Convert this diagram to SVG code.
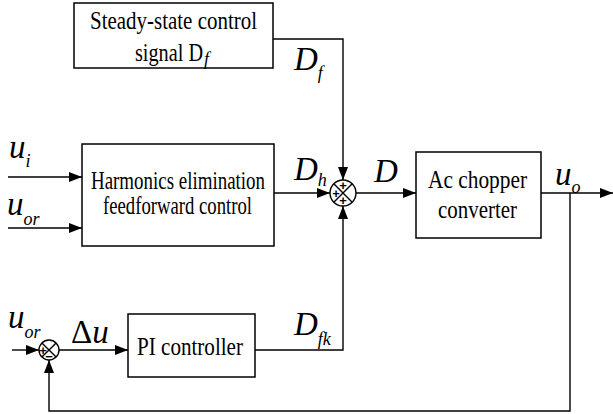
<svg xmlns="http://www.w3.org/2000/svg" width="613" height="414" viewBox="0 0 613 414">
<style>
.box{fill:#fff;stroke:#000;stroke-width:1.5}
.ln{fill:none;stroke:#000;stroke-width:1.4}
.t{font-family:'Liberation Serif','DejaVu Serif',serif;font-size:25px;fill:#000}
.m{font-family:'Liberation Serif','DejaVu Serif',serif;font-style:italic;font-size:33px;fill:#000}
.s{font-family:'Liberation Serif','DejaVu Serif',serif;font-style:italic;font-size:18px;fill:#000}
.pm{font-family:'Liberation Sans','DejaVu Sans',sans-serif;font-size:13px;font-weight:bold;fill:#000;text-anchor:middle}
</style>
<defs>
<marker id="ar" markerUnits="userSpaceOnUse" markerWidth="14" markerHeight="12" refX="13" refY="6" orient="auto">
<path d="M0,1 L13,6 L0,11 Z" fill="#000"/>
</marker>
</defs>
<rect width="613" height="414" fill="#fff"/>
<g id="connectors">
<path class="ln" d="M8,177 H82" marker-end="url(#ar)"/>
<path class="ln" d="M8,228 H82" marker-end="url(#ar)"/>
<path class="ln" d="M273,39 H343 V180" marker-end="url(#ar)"/>
<path class="ln" d="M274,193 H330" marker-end="url(#ar)"/>
<path class="ln" d="M356,193 H416" marker-end="url(#ar)"/>
<path class="ln" d="M541,193 H613" marker-end="url(#ar)"/>
<path class="ln" d="M570,193 V411 H49 V360" marker-end="url(#ar)"/>
<path class="ln" d="M255,350 H343 V206" marker-end="url(#ar)"/>
<path class="ln" d="M12,350 H39" marker-end="url(#ar)"/>
<path class="ln" d="M59,350 H128" marker-end="url(#ar)"/>
</g>
<g id="steady">
<rect class="box" x="74" y="3" width="199" height="65"/>
<text class="t" x="90" y="29" textLength="167" lengthAdjust="spacingAndGlyphs">Steady-state control</text>
<text class="t" x="135" y="61" textLength="68" lengthAdjust="spacingAndGlyphs">signal D</text>
<text class="s" x="204" y="65" font-size="16">f</text>
</g>
<g id="harmonics">
<rect class="box" x="82" y="144" width="192" height="102"/>
<text class="t" x="91" y="189" textLength="174" lengthAdjust="spacingAndGlyphs">Harmonics elimination</text>
<text class="t" x="103" y="214" textLength="149" lengthAdjust="spacingAndGlyphs">feedforward control</text>
</g>
<g id="sum1">
<circle class="ln" cx="343" cy="193" r="13" fill="#fff"/>
<path class="ln" d="M333.8,183.8 L352.2,202.2 M352.2,183.8 L333.8,202.2" stroke-width="1.2"/>
<text class="pm" x="343" y="190">+</text>
<text class="pm" x="336" y="197.5">+</text>
<text class="pm" x="343" y="205">+</text>
</g>
<g id="chopper">
<rect class="box" x="416" y="152" width="125" height="86"/>
<text class="t" x="428" y="188" textLength="99" lengthAdjust="spacingAndGlyphs">Ac chopper</text>
<text class="t" x="438" y="218" textLength="79" lengthAdjust="spacingAndGlyphs">converter</text>
</g>
<g id="pi">
<rect class="box" x="128" y="314" width="127" height="63"/>
<text class="t" x="137" y="355" textLength="106" lengthAdjust="spacingAndGlyphs">PI controller</text>
</g>
<g id="sum2">
<circle class="ln" cx="49" cy="350" r="10" fill="#fff"/>
<path class="ln" d="M41.9,342.9 L56.1,357.1 M56.1,342.9 L41.9,357.1" stroke-width="1.2"/>
<text class="pm" x="43" y="354.5">+</text>
<text class="pm" x="49" y="361">−</text>
</g>
<g id="labels">
<text class="m" x="9" y="158">u<tspan class="s" dy="9">i</tspan></text>
<text class="m" x="7" y="215">u<tspan class="s" dy="10">or</tspan></text>
<text class="m" x="294" y="70">D<tspan class="s" dy="9">f</tspan></text>
<text class="m" x="294" y="180">D<tspan class="s" dy="6">h</tspan></text>
<text class="m" x="374" y="182">D</text>
<text class="m" x="555" y="185">u<tspan class="s" dy="8">o</tspan></text>
<text class="m" x="8" y="328">u<tspan class="s" dy="10">or</tspan></text>
<text class="m" x="71" y="343"><tspan font-style="normal">Δ</tspan>u</text>
<text class="m" x="294" y="335">D<tspan class="s" dy="10">fk</tspan></text>
</g>
</svg>
